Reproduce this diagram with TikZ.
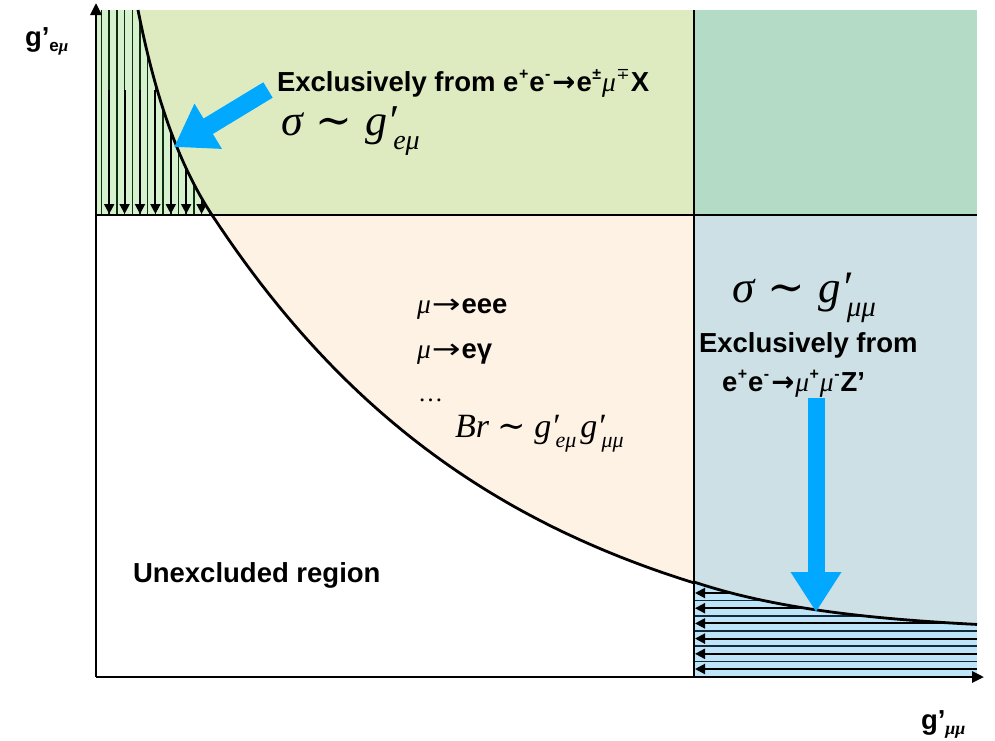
\documentclass[tikz,border=0pt]{standalone}
\usepackage{fontspec}
\setmainfont{Liberation Sans}
\newfontfamily\serifx{Liberation Serif}
\newfontfamily\dejas{DejaVu Serif}
\newfontfamily\dejasans{DejaVu Sans}
\usetikzlibrary{arrows.meta}
\definecolor{cTL}{RGB}{222,235,193}
\definecolor{cTR}{RGB}{179,219,198}
\definecolor{cRM}{RGB}{205,224,230}
\definecolor{cPe}{RGB}{254,242,229}
\definecolor{cHG}{RGB}{214,241,205}
\definecolor{cHGl}{RGB}{15,45,15}
\definecolor{cHB}{RGB}{190,228,248}
\definecolor{cHBl}{RGB}{20,40,60}
\definecolor{cBlue}{RGB}{0,168,255}
\newcommand\smu{{\serifx\itshape\mdseries μ}}
\newcommand\bmu{{\serifx\itshape\bfseries μ}}
\newcommand\tsim{{\dejas\upshape\mdseries ∼}}
\newcommand\barr{\kern1pt{\dejasans\bfseries →}\kern1pt}
\newcommand\tarr{\kern1pt\scalebox{1.25}[1]{\dejasans\mdseries →}\kern1pt}
\newcommand\supx[1]{\kern0.5pt\raisebox{0.42em}{\fontsize{16}{16}\selectfont #1}\kern1pt}
\newcommand\gsub[2]{\rlap{\raisebox{-0.02em}{′}}\kern0.12em\raisebox{-0.32em}{\fontsize{#1}{#1}\selectfont #2}}
\tikzset{
  txt/.style={anchor=base west, inner sep=0pt, outer sep=0pt},
  frame/.style={line width=2.8pt, black},
  axis/.style={line width=2.8pt, black, -{Triangle[length=12pt,width=11pt]}},
  bigarrow/.style={cBlue, line width=#1},
  hatchthin/.style={line width=1.5pt},
  hatcharrow/.style={line width=2pt, black, -{Triangle[length=10pt,width=10pt]}},
  bold/.style={font=\fontsize{27.5}{32}\selectfont\bfseries},
}
\begin{document}
\begin{tikzpicture}[x=1pt,y=-1pt]
\useasboundingbox (0,0) rectangle (995,740);
% coloured regions
\fill[cTL] (96,10) rectangle (694,215);
\fill[cTR] (694,10) rectangle (977,215);
\fill[cRM] (694,215) rectangle (977,677);
\fill[cPe] (96,215) rectangle (694,677);
% white unexcluded region
\begin{scope}
  \clip (96,215) rectangle (694,677);
  \fill[white] (90,5) -- (138,5) -- plot[domain=138:212,samples=30] (\x,{464.2-408.63/((\x-48.04)/100)}) -- plot[domain=212:694,samples=60] (\x,{677-462*exp(-(\x-212)/303)}) -- plot[domain=694:977,samples=30] (\x,{632-50*exp(-(\x-694)/150)}) -- (985,625) -- (985,690) -- (90,690) -- cycle;
\end{scope}
% green hatched region
\begin{scope}
  \clip (96,10) rectangle (694,215);
  \clip (90,5) -- (138,5) -- plot[domain=138:212,samples=30] (\x,{464.2-408.63/((\x-48.04)/100)}) -- plot[domain=212:694,samples=60] (\x,{677-462*exp(-(\x-212)/303)}) -- plot[domain=694:977,samples=30] (\x,{632-50*exp(-(\x-694)/150)}) -- (985,625) -- (985,690) -- (90,690) -- cycle;
  \fill[cHG] (96,10) rectangle (694,215);
  \foreach \k in {0,...,15} {
    \draw[hatchthin, cHGl] ({101.5+7.7*\k},10) -- ({101.5+7.7*\k},215);
  }
  \foreach \k in {1,3,...,13} {
    \draw[hatcharrow] ({101.5+7.7*\k},90) -- ({101.5+7.7*\k},214);
  }
\end{scope}
% blue hatched region
\begin{scope}
  \clip (694,215) rectangle (977,677);
  \clip (90,5) -- (138,5) -- plot[domain=138:212,samples=30] (\x,{464.2-408.63/((\x-48.04)/100)}) -- plot[domain=212:694,samples=60] (\x,{677-462*exp(-(\x-212)/303)}) -- plot[domain=694:977,samples=30] (\x,{632-50*exp(-(\x-694)/150)}) -- (985,625) -- (985,690) -- (90,690) -- cycle;
  \fill[cHB] (694,560) rectangle (977,677);
  \foreach \k in {1,3,...,9} {
    \draw[hatchthin, cHBl] (694,{593+7.6*\k}) -- (977,{593+7.6*\k});
  }
  \foreach \k in {0,2,...,10} {
    \draw[hatcharrow] (977,{593+7.6*\k}) -- (695,{593+7.6*\k});
  }
\end{scope}
% curve
\draw[line width=2.8pt, line join=round] plot[domain=138:212,samples=30] (\x,{464.2-408.63/((\x-48.04)/100)}) -- plot[domain=212:694,samples=60] (\x,{677-462*exp(-(\x-212)/303)}) -- plot[domain=694:977,samples=30] (\x,{632-50*exp(-(\x-694)/150)});
% frame lines
\coordinate (O) at (96,677);
\coordinate (ytip) at (96,3);
\coordinate (xtip) at (984,677);
\coordinate (hL) at (96,215);
\coordinate (hR) at (977,215);
\coordinate (vT) at (694,10);
\coordinate (vB) at (694,677);
\draw[frame] (hL) -- (hR);
\draw[frame] (vT) -- (vB);
\draw[axis] (O) -- (ytip);
\draw[axis] (O) -- (xtip);
% blue arrows
\coordinate (a1s) at (268,90);
\coordinate (a1e) at (174,147);
\coordinate (a2s) at (816,398);
\coordinate (a2e) at (816,612);
\draw[bigarrow=18pt, -{Triangle[length=40pt,width=50pt]}] (a1s) -- (a1e);
\draw[bigarrow=17pt, -{Triangle[length=40pt,width=48pt]}] (a2s) -- (a2e);
% texts
\node[txt, bold] (yl) at (25,46) {g’\raisebox{-5pt}{\fontsize{17}{17}\selectfont e\bmu}};
\node[txt, bold] (xl) at (921,729) {g’\raisebox{-5pt}{\fontsize{18}{18}\selectfont\bmu\bmu}};
\node[txt, bold] (t1) at (277,91) {Exclusively from e\supx{+}e\supx{-}\barr e\supx{±}\smu\supx{{\dejas\mdseries ∓}}X};
\node[txt] (s1) at (281,135) {\fontsize{44}{46}\selectfont\serifx\itshape σ\hspace{0.3em}\tsim\hspace{0.3em}g\gsub{28}{eμ}};
\node[txt] (m1) at (417,313) {\fontsize{27.5}{32}\selectfont\smu\tarr\bfseries eee};
\node[txt] (m2) at (417,358) {\fontsize{27.5}{32}\selectfont\smu\tarr\bfseries eγ};
\node[txt] (m3) at (418,401) {\fontsize{25}{28}\selectfont\serifx …};
\node[txt] (br) at (455,437) {\fontsize{34}{38}\selectfont\serifx\itshape Br\hspace{0.25em}\tsim\hspace{0.25em}g\gsub{22}{eμ}\hspace{0.12em}g\gsub{22}{μμ}};
\node[txt] (s2) at (732,302) {\fontsize{45}{48}\selectfont\serifx\itshape σ\hspace{0.3em}\tsim\hspace{0.3em}g\gsub{29}{μμ}};
\node[txt, bold] (r1) at (699,352) {Exclusively from};
\node[txt, bold] (r2) at (722,391) {e\supx{+}e\supx{-}\barr\smu\supx{+}\smu\supx{-}Z’};
\node[txt, bold] (un) at (133,582) {Unexcluded region};
\end{tikzpicture}
\end{document}
